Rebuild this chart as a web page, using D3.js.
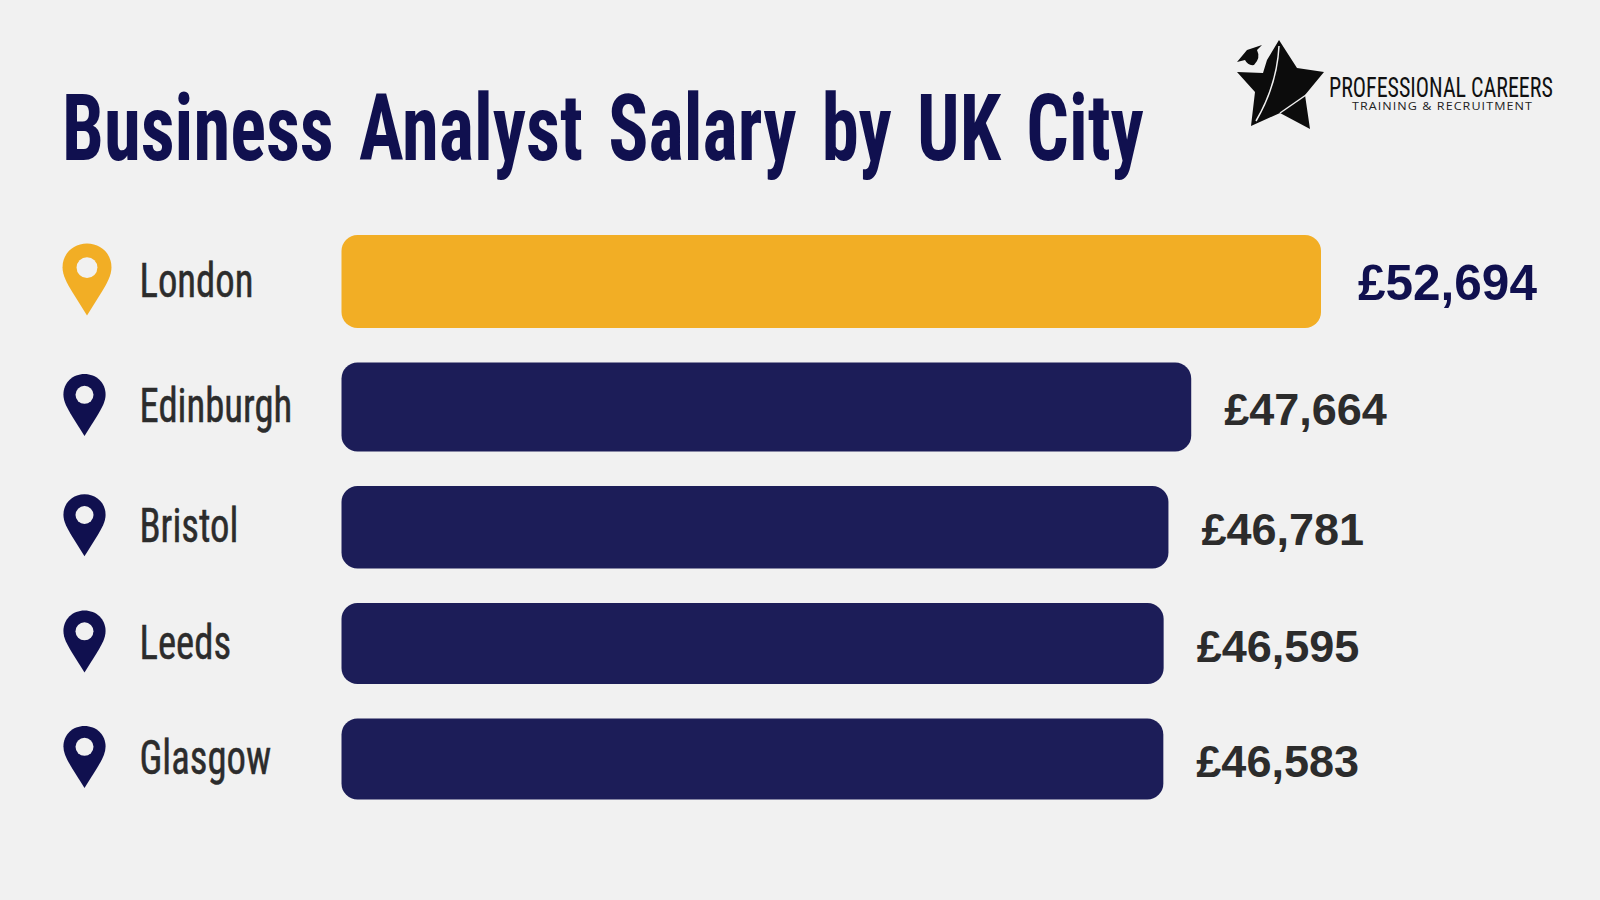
<!DOCTYPE html>
<html>
<head>
<meta charset="utf-8">
<script src="https://cdn.jsdelivr.net/npm/d3@7/dist/d3.min.js"></script>
<style>
html,body{margin:0;padding:0;background:#f1f1f1;overflow:hidden}
svg{display:block}
</style>
</head>
<body>
<svg id="chart" width="1600" height="900"></svg>
<script>
const chartTitle = "Business Analyst Salary by UK City";
const cities = ["London", "Edinburgh", "Bristol", "Leeds", "Glasgow"];
const salaries = [52694, 47664, 46781, 46595, 46583];
const highlightCity = "London";
const logoName = "PROFESSIONAL CAREERS";
const logoTagline = "TRAINING & RECRUITMENT";

const NAVY = "#1c1d58", INK = "#10104f", GOLD = "#f2ae25", DARK = "#2c2c2c";
const NARROW = "'Roboto Condensed','Liberation Sans Narrow','Liberation Sans',sans-serif";
const ARIAL = "'Liberation Sans',Arial,sans-serif";

const svg = d3.select("#chart");
svg.append("rect").attr("width", 1600).attr("height", 900).attr("fill", "#f1f1f1");

const rows = cities.map((city, i) => ({city, value: salaries[i], hot: city === highlightCity}));

const x = d3.scaleLinear().domain([14730, 52694]).range([341.5, 1321]);
const barHeight = d3.scaleLinear().domain([46583, 47664, 52694]).range([81, 89, 93]);
const rowGap = 34.5;
let cursor = 235;
rows.forEach(d => { d.h = barHeight(d.value); d.top = cursor; d.cy = cursor + d.h / 2; cursor += d.h + rowGap; });

// Squeeze a text horizontally to a target width, keeping its height.
function fitWidth(sel, left, baseline, width) {
  const natural = sel.node().getComputedTextLength();
  sel.attr("transform", `translate(${left},${baseline}) scale(${width / natural},1)`);
}

svg.append("text").attr("class", "title")
  .attr("font-family", NARROW).attr("font-weight", 700).attr("font-size", 92)
  .attr("word-spacing", 10)
  .attr("fill", INK).text(chartTitle)
  .call(fitWidth, 62, 160, 1082);

const row = svg.selectAll("g.row").data(rows).join("g").attr("class", "row");

row.append("rect")
  .attr("x", x.range()[0]).attr("y", d => d.top)
  .attr("width", d => x(d.value) - x.range()[0]).attr("height", d => d.h)
  .attr("rx", 16).attr("fill", d => d.hot ? GOLD : NAVY);

row.append("text")
  .attr("transform", d => `translate(139.5,${d.cy + 15}) scale(0.79,1)`)
  .attr("font-family", NARROW).attr("font-size", 49)
  .attr("fill", DARK).attr("stroke", DARK).attr("stroke-width", 0.5)
  .text(d => d.city);

const pinPath = "M0,-0.5 C0.19,-0.5 0.34,-0.36 0.34,-0.17 C0.34,-0.06 0.28,0.05 0.2,0.18 L0,0.5 L-0.2,0.18 C-0.28,0.05 -0.34,-0.06 -0.34,-0.17 C-0.34,-0.36 -0.19,-0.5 0,-0.5 Z";
const pin = row.append("g")
  .attr("transform", d => `translate(${d.hot ? 87 : 84.5},${d.cy - 2}) scale(${d.hot ? 72 : 62})`);
pin.append("path").attr("d", pinPath).attr("fill", d => d.hot ? GOLD : INK);
pin.append("circle").attr("cx", 0).attr("cy", -0.165).attr("r", 0.145).attr("fill", "#f1f1f1");

row.append("text")
  .attr("x", d => x(d.value) + (d.hot ? 37 : 33))
  .attr("y", d => d.cy + 18)
  .attr("font-family", ARIAL).attr("font-weight", 700)
  .attr("font-size", d => d.hot ? 49.5 : 45)
  .attr("fill", d => d.hot ? INK : DARK)
  .text(d => "£" + d3.format(",")(d.value));

// Logo
const logo = svg.append("g").attr("class", "logo");
logo.append("path").attr("fill", "#0c0c0c")
  .attr("d", "M1279,40 L1297,68 L1324,72 L1305,95 L1310,129 L1280,113 L1251,126 L1255,92 L1237,72 L1263,73 L1267,60 Z");
logo.append("path").attr("fill", "#0c0c0c")
  .attr("d", "M1237,62 L1247,50 L1262,45 L1257,50 Q1261,58 1254,65 Q1248,66 1245,60 Z");
logo.append("path").attr("fill", "none").attr("stroke", "#f1f1f1").attr("stroke-width", 1.5)
  .attr("d", "M1279,46 Q1277,85 1256,121");
logo.append("path").attr("fill", "none").attr("stroke", "#f1f1f1").attr("stroke-width", 1.5)
  .attr("d", "M1306,95 L1280,113");
logo.append("text")
  .attr("font-family", NARROW).attr("font-size", 27).attr("fill", "#111").text(logoName)
  .call(fitWidth, 1329, 97, 224);
logo.append("text")
  .attr("font-family", "'Open Sans',sans-serif").attr("font-weight", 500).attr("font-size", 10.5)
  .attr("letter-spacing", 0.9).attr("fill", "#222").text(logoTagline)
  .call(fitWidth, 1352, 109.5, 181);
</script>
</body>
</html>
